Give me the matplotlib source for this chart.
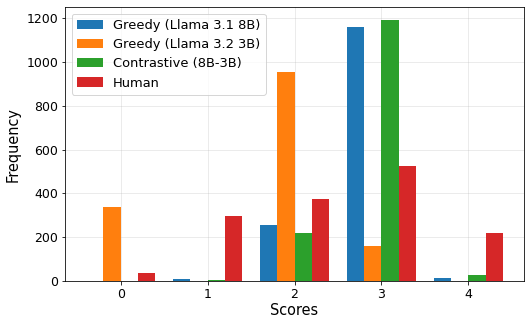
import numpy as np
import matplotlib
matplotlib.use("Agg")
import matplotlib.pyplot as plt

scores = [0, 1, 2, 3, 4]
greedy_8b = [0, 10, 254, 1159, 14]
greedy_3b = [336, 0, 955, 160, 0]
contrastive = [0, 5, 218, 1191, 30]
human = [38, 295, 373, 527, 218]

labels = ["Greedy (Llama 3.1 8B)", "Greedy (Llama 3.2 3B)", "Contrastive (8B-3B)", "Human"]
series = [greedy_8b, greedy_3b, contrastive, human]

# render at 72 dpi so point sizes equal pixels
fig, ax = plt.subplots(figsize=(525 / 72, 322 / 72), dpi=72)
x = np.array(scores)
w = 0.2
for i, (vals, lab) in enumerate(zip(series, labels)):
    ax.bar(x + (i - 1.5) * w, vals, w, label=lab, zorder=2)

ax.set_xticks(scores)
ax.set_xlabel("Scores", fontsize=14.5, labelpad=2)
ax.set_ylabel("Frequency", fontsize=14.5, labelpad=6)
ax.tick_params(labelsize=12.5)
ax.grid(True, alpha=0.3, zorder=0)
ax.legend(loc="upper left", fontsize=13, labelspacing=0.48,
          handlelength=2.0, borderaxespad=0.5)

fig.subplots_adjust(left=0.124, right=0.998, top=0.978, bottom=0.127)
fig.savefig("out.png")
